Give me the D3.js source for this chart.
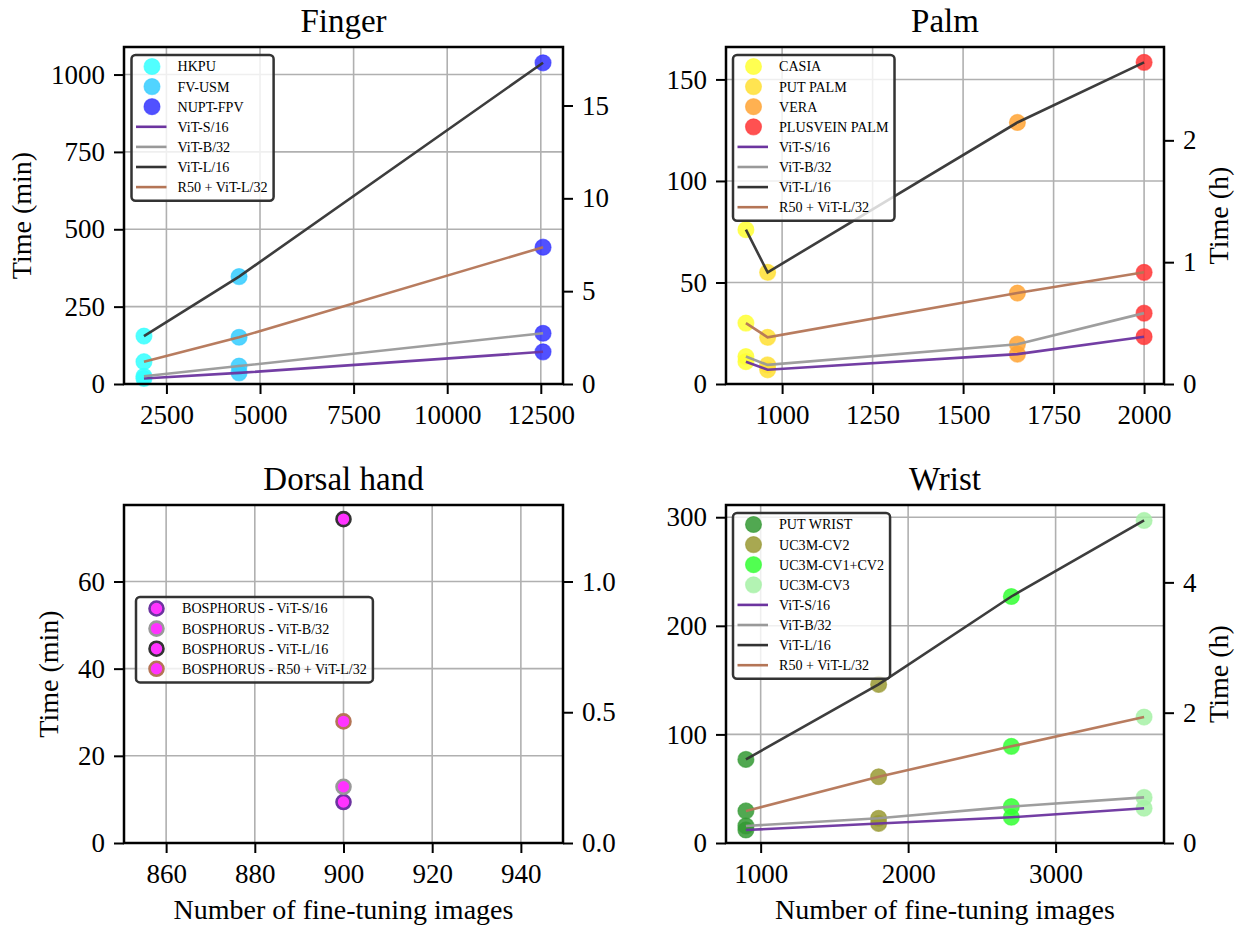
<!DOCTYPE html>
<html>
<head>
<meta charset="utf-8">
<script src="https://cdn.jsdelivr.net/npm/d3@7"></script>
<style>
  body { margin: 0; background: #fff; }
  text { font-family: "Liberation Serif", "Times New Roman", serif; fill: #000; }
</style>
</head>
<body>
<script>
// ---- Data ----
var modelNames = ["ViT-S/16", "ViT-B/32", "ViT-L/16", "R50 + ViT-L/32"];
var modelColors = ["#6c349f", "#999999", "#333333", "#b47556"];

var fingerSets = ["HKPU", "FV-USM", "NUPT-FPV"];
var fingerImages = [1900, 4440, 12560];
var fingerS16 = [18, 36, 104];
var fingerB32 = [25, 58, 164];
var fingerL16 = [155, 347, 1038];
var fingerR50 = [72, 151, 442];
var fingerColors = ["#33ffff", "#33ccff", "#3333ff"];

var palmSets = ["CASIA", "PUT PALM", "VERA", "PLUSVEIN PALM"];
var palmImages = [900, 960, 1650, 2000];
var palmS16 = [11, 7, 14.7, 23.3];
var palmB32 = [13.5, 9.4, 19.6, 34.9];
var palmL16 = [76, 55, 128.8, 158.4];
var palmR50 = [30, 23, 44.8, 55];
var palmColors = ["#ffff33", "#ffdf33", "#ffa333", "#ff3333"];

var dorsalSets = ["BOSPHORUS"];
var dorsalImages = [900];
var dorsalS16 = [9.4];
var dorsalB32 = [12.9];
var dorsalL16 = [74.3];
var dorsalR50 = [27.9];
var dorsalColors = ["#ff33ff"];

var wristSets = ["PUT WRIST", "UC3M-CV2", "UC3M-CV1+CV2", "UC3M-CV3"];
var wristImages = [900, 1800, 2700, 3600];
var wristS16 = [12, 18, 23.7, 32];
var wristB32 = [15.7, 22.8, 33.5, 42];
var wristL16 = [77, 146, 227, 297];
var wristR50 = [29.5, 61, 89, 116];
var wristColors = ["#339933", "#999933", "#33ff33", "#a6f1a6"];

// ---- Ticks ----
var fingerXTicks = [2500, 5000, 7500, 10000, 12500];
var fingerYTicks = [0, 250, 500, 750, 1000];
var fingerHTicks = [0, 5, 10, 15];
var palmXTicks = [1000, 1250, 1500, 1750, 2000];
var palmYTicks = [0, 50, 100, 150];
var palmHTicks = [0, 1, 2];
var dorsalXTicks = [860, 880, 900, 920, 940];
var dorsalYTicks = [0, 20, 40, 60];
var dorsalHTicks = [0, 0.5, 1.0];
var wristXTicks = [1000, 2000, 3000];
var wristYTicks = [0, 100, 200, 300];
var wristHTicks = [0, 2, 4];

var serif = "'Liberation Serif', 'Times New Roman', serif";

var svg = d3.select("body").append("svg")
    .attr("width", 1244)
    .attr("height", 927);

function drawPanel(p) {
    var g = svg.append("g");
    var values = [p.s16, p.b32, p.l16, p.r50];

    // matplotlib-like limits: 5% x margins, y from 0
    var x0 = d3.min(p.images), x1 = d3.max(p.images);
    if (x0 === x1) { x0 = x0 * 0.95; x1 = x1 * 1.05; }
    var xm = (x1 - x0) * 0.05;
    var all = [].concat(p.s16, p.b32, p.l16, p.r50);
    var ymin = d3.min(all), ymax = d3.max(all);

    var x = d3.scaleLinear().domain([x0 - xm, x1 + xm]).range([p.l, p.r]);
    var y = d3.scaleLinear().domain([0, ymax + (ymax - ymin) * 0.05]).range([p.b, p.t]);
    var yh = d3.scaleLinear().domain(y.domain().map(function(v) { return v / 60; })).range([p.b, p.t]);

    // grid
    g.append("g").selectAll("line").data(p.xTicks).join("line")
        .attr("x1", d => x(d)).attr("x2", d => x(d))
        .attr("y1", p.t).attr("y2", p.b)
        .style("stroke", "#b0b0b0").style("stroke-width", 1.6);
    g.append("g").selectAll("line").data(p.yTicks).join("line")
        .attr("y1", d => y(d)).attr("y2", d => y(d))
        .attr("x1", p.l).attr("x2", p.r)
        .style("stroke", "#b0b0b0").style("stroke-width", 1.6);

    // markers
    if (p.dorsal) {
        values.forEach(function(vals, m) {
            g.selectAll(".pt" + m).data(vals).join("circle")
                .attr("cx", (d, i) => x(p.images[i]))
                .attr("cy", d => y(d))
                .attr("r", 7)
                .style("fill", p.colors[0])
                .style("stroke", modelColors[m])
                .style("stroke-width", 2.6);
        });
    } else {
        p.images.forEach(function(img, i) {
            values.forEach(function(vals) {
                g.append("circle")
                    .attr("cx", x(img))
                    .attr("cy", y(vals[i]))
                    .attr("r", 8)
                    .style("fill", p.colors[i])
                    .style("fill-opacity", 0.85)
                    .style("stroke", p.colors[i])
                    .style("stroke-opacity", 0.6)
                    .style("stroke-width", 1.2);
            });
        });
        // lines on top
        var line = d3.line().x((d, i) => x(p.images[i])).y(d => y(d));
        values.forEach(function(vals, m) {
            g.append("path")
                .datum(vals)
                .attr("d", line)
                .style("fill", "none")
                .style("stroke", modelColors[m])
                .style("stroke-opacity", 0.95)
                .style("stroke-width", 2.6);
        });
    }

    // axes
    var xAxis = g.append("g")
        .attr("transform", "translate(0," + p.b + ")")
        .call(d3.axisBottom(x).tickValues(p.xTicks).tickSize(10).tickPadding(11).tickFormat(d3.format("d")));
    var yAxis = g.append("g")
        .attr("transform", "translate(" + p.l + ",0)")
        .call(d3.axisLeft(y).tickValues(p.yTicks).tickSize(10).tickPadding(9).tickFormat(d3.format("d")));
    var hAxis = g.append("g")
        .attr("transform", "translate(" + p.r + ",0)")
        .call(d3.axisRight(yh).tickValues(p.hTicks).tickSize(10).tickPadding(9).tickFormat(p.hFormat));
    [xAxis, yAxis, hAxis].forEach(function(a) {
        a.attr("font-family", serif).attr("font-size", 27);
        a.select(".domain").remove();
        a.selectAll(".tick line").style("stroke", "#000").style("stroke-width", 2);
        a.selectAll(".tick text").style("font-size", "27px").style("font-family", serif);
    });

    // frame
    g.append("rect")
        .attr("x", p.l).attr("y", p.t)
        .attr("width", p.r - p.l).attr("height", p.b - p.t)
        .style("fill", "none").style("stroke", "#000").style("stroke-width", 2.5);

    // title
    g.append("text")
        .attr("x", (p.l + p.r) / 2).attr("y", p.t - 15)
        .attr("text-anchor", "middle")
        .style("font-size", "33px")
        .text(p.title);

    if (p.yLabel) {
        g.append("text")
            .attr("transform", "translate(" + p.yLabelX + "," + ((p.t + p.b) / 2) + ") rotate(-90)")
            .attr("text-anchor", "middle")
            .style("font-size", "28px")
            .text("Time (min)");
    }
    if (p.hLabel) {
        g.append("text")
            .attr("transform", "translate(1228," + ((p.t + p.b) / 2) + ") rotate(-90)")
            .attr("text-anchor", "middle")
            .style("font-size", "28px")
            .text("Time (h)");
    }
    if (p.xLabel) {
        g.append("text")
            .attr("x", (p.l + p.r) / 2).attr("y", 919)
            .attr("text-anchor", "middle")
            .style("font-size", "28px")
            .text("Number of fine-tuning images");
    }

    // legend
    var lg = g.append("g");
    var items = [];
    if (p.dorsal) {
        modelNames.forEach(function(n, m) {
            items.push({ type: "dot", label: p.sets[0] + " - " + n, fill: p.colors[0], edge: modelColors[m] });
        });
    } else {
        p.sets.forEach(function(s, i) { items.push({ type: "circle", label: s, fill: p.colors[i] }); });
        modelNames.forEach(function(n, m) { items.push({ type: "line", label: n, color: modelColors[m] }); });
    }
    var step = 20.1;
    var box = lg.append("rect")
        .attr("x", p.legX).attr("y", p.legY)
        .attr("rx", 4).attr("ry", 4)
        .attr("height", items.length * step + 5)
        .style("fill", "#fff").style("fill-opacity", 0.8)
        .style("stroke", "#333").style("stroke-width", 2.5);
    var maxLen = 0;
    items.forEach(function(it, k) {
        var cy = p.legY + 11.5 + k * step;
        if (it.type === "line") {
            lg.append("line")
                .attr("x1", p.legX + 4.5).attr("x2", p.legX + 35)
                .attr("y1", cy).attr("y2", cy)
                .style("stroke", it.color).style("stroke-width", 2.6);
        } else if (it.type === "dot") {
            lg.append("circle")
                .attr("cx", p.legX + 20.5).attr("cy", cy).attr("r", 7)
                .style("fill", it.fill).style("stroke", it.edge).style("stroke-width", 2.6);
        } else {
            lg.append("circle")
                .attr("cx", p.legX + 20.5).attr("cy", cy).attr("r", 8)
                .style("fill", it.fill).style("fill-opacity", 0.85)
                .style("stroke", it.fill).style("stroke-opacity", 0.6).style("stroke-width", 1.2);
        }
        var t = lg.append("text")
            .attr("x", p.legX + 46).attr("y", cy + 4.9)
            .style("font-size", "14.1px")
            .text(it.label);
        maxLen = Math.max(maxLen, t.node().getComputedTextLength());
    });
    box.attr("width", 46 + maxLen + 6);
}

drawPanel({
    title: "Finger", sets: fingerSets, images: fingerImages, colors: fingerColors,
    s16: fingerS16, b32: fingerB32, l16: fingerL16, r50: fingerR50,
    xTicks: fingerXTicks, yTicks: fingerYTicks, hTicks: fingerHTicks, hFormat: d3.format("d"),
    l: 124, r: 563, t: 47, b: 384,
    yLabel: true, yLabelX: 31, hLabel: false, xLabel: false,
    legX: 131.5, legY: 55
});
drawPanel({
    title: "Palm", sets: palmSets, images: palmImages, colors: palmColors,
    s16: palmS16, b32: palmB32, l16: palmL16, r50: palmR50,
    xTicks: palmXTicks, yTicks: palmYTicks, hTicks: palmHTicks, hFormat: d3.format("d"),
    l: 726, r: 1164, t: 47, b: 384,
    yLabel: false, hLabel: true, xLabel: false,
    legX: 733, legY: 55
});
drawPanel({
    title: "Dorsal hand", sets: dorsalSets, images: dorsalImages, colors: dorsalColors, dorsal: true,
    s16: dorsalS16, b32: dorsalB32, l16: dorsalL16, r50: dorsalR50,
    xTicks: dorsalXTicks, yTicks: dorsalYTicks, hTicks: dorsalHTicks, hFormat: d3.format(".1f"),
    l: 124, r: 563, t: 505, b: 843,
    yLabel: true, yLabelX: 58, hLabel: false, xLabel: true,
    legX: 136, legY: 597
});
drawPanel({
    title: "Wrist", sets: wristSets, images: wristImages, colors: wristColors,
    s16: wristS16, b32: wristB32, l16: wristL16, r50: wristR50,
    xTicks: wristXTicks, yTicks: wristYTicks, hTicks: wristHTicks, hFormat: d3.format("d"),
    l: 726, r: 1164, t: 505, b: 843,
    yLabel: false, hLabel: true, xLabel: true,
    legX: 733, legY: 513
});
</script>
</body>
</html>
